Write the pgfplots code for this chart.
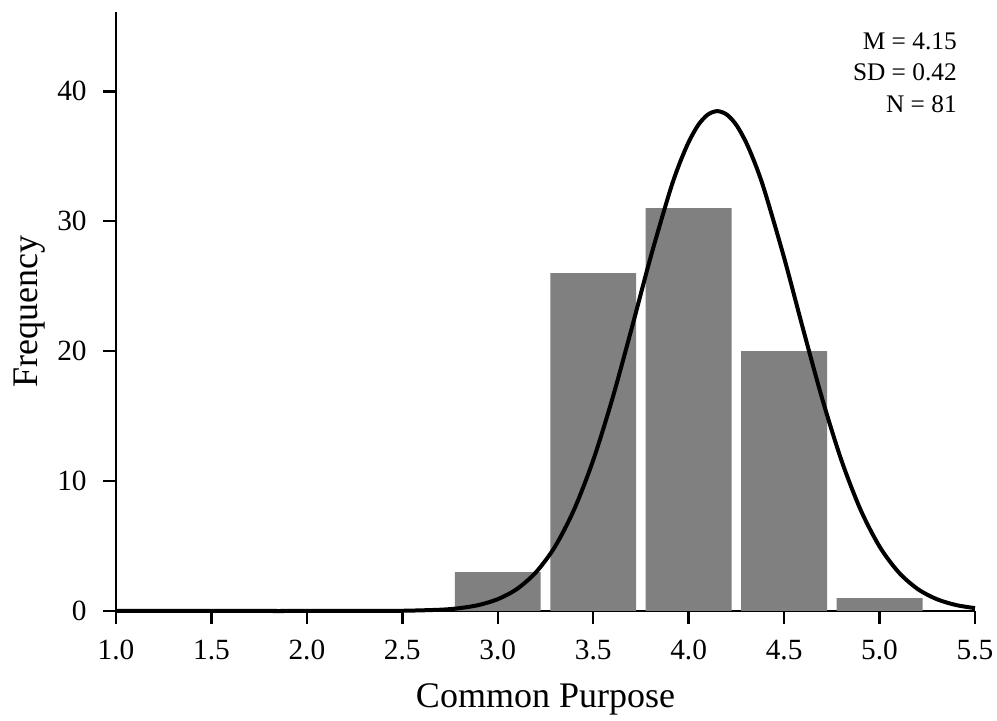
\documentclass[border=0pt]{standalone}
\usepackage{fontspec}
\setmainfont{Liberation Serif}
\usepackage{pgfplots}
\pgfplotsset{compat=1.18}
\definecolor{bargray}{RGB}{128,128,128}

\begin{document}
\begin{tikzpicture}
\useasboundingbox (-87pt,-82.5pt) rectangle (660.75pt,458.25pt);
\begin{axis}[
    at={(0,0)}, anchor=south west,
    scale only axis,
    width=644.25pt, height=449.25pt,
    xmin=1, xmax=5.5,
    ymin=0, ymax=46.1,
    axis x line*=bottom, axis y line*=left,
    axis line style={line width=1.9pt, -},
    tick pos=left,
    xtick={1,1.5,2,2.5,3,3.5,4,4.5,5,5.5},
    ytick={0,10,20,30,40},
    tick align=outside,
    major tick length=9.5pt,
    major tick style={black, line width=1.9pt},
    /pgf/number format/assume math mode=true,
    tick label style={font=\fontsize{22}{26}\selectfont},
    xticklabel shift=9pt,
    yticklabel shift=9pt,
    xticklabel style={/pgf/number format/.cd, fixed, fixed zerofill, precision=1},
    xlabel={Common Purpose},
    ylabel={Frequency},
    label style={font=\fontsize{27}{32}\selectfont},
    xlabel style={at={(axis description cs:0.5,-0.1603)}, anchor=base},
    ylabel style={at={(axis description cs:-0.1001,0.5)}, anchor=center},
    clip=false,
]

% histogram bins (counts)
\addplot[ybar, bar width=0.45, bar shift=0pt, fill=bargray, draw=none]
    coordinates {(3,3) (3.5,26) (4,31) (4.5,20) (5,1)};

% fitted normal curve
\addplot[black, line width=3pt, smooth] coordinates {
    (1.0,0) (1.5,0) (2.0,0) (2.3,0.002) (2.5,0.017) (2.7,0.099)
    (2.8,0.22) (2.9,0.46) (3.0,0.91) (3.1,1.69) (3.2,2.98)
    (3.3,4.96) (3.4,7.81) (3.5,11.61) (3.6,16.32) (3.7,21.67)
    (3.8,27.19) (3.9,32.23) (3.95,34.35) (4.0,36.09) (4.05,37.40)
    (4.1,38.20) (4.15,38.47) (4.2,38.20) (4.25,37.40) (4.3,36.09)
    (4.35,34.35) (4.4,32.23) (4.5,27.19) (4.6,21.67)
    (4.7,16.32) (4.8,11.61) (4.9,7.81) (5.0,4.96) (5.1,2.98)
    (5.2,1.69) (5.3,0.91) (5.4,0.46) (5.5,0.22)
};

\node[anchor=base east, inner sep=0pt, font=\fontsize{19}{23}\selectfont] at (axis description cs:0.979,0.9382) {M = 4.15};
\node[anchor=base east, inner sep=0pt, font=\fontsize{19}{23}\selectfont] at (axis description cs:0.979,0.8848) {SD = 0.42};
\node[anchor=base east, inner sep=0pt, font=\fontsize{19}{23}\selectfont] at (axis description cs:0.979,0.8314) {N = 81};
\end{axis}
\end{tikzpicture}
\end{document}
